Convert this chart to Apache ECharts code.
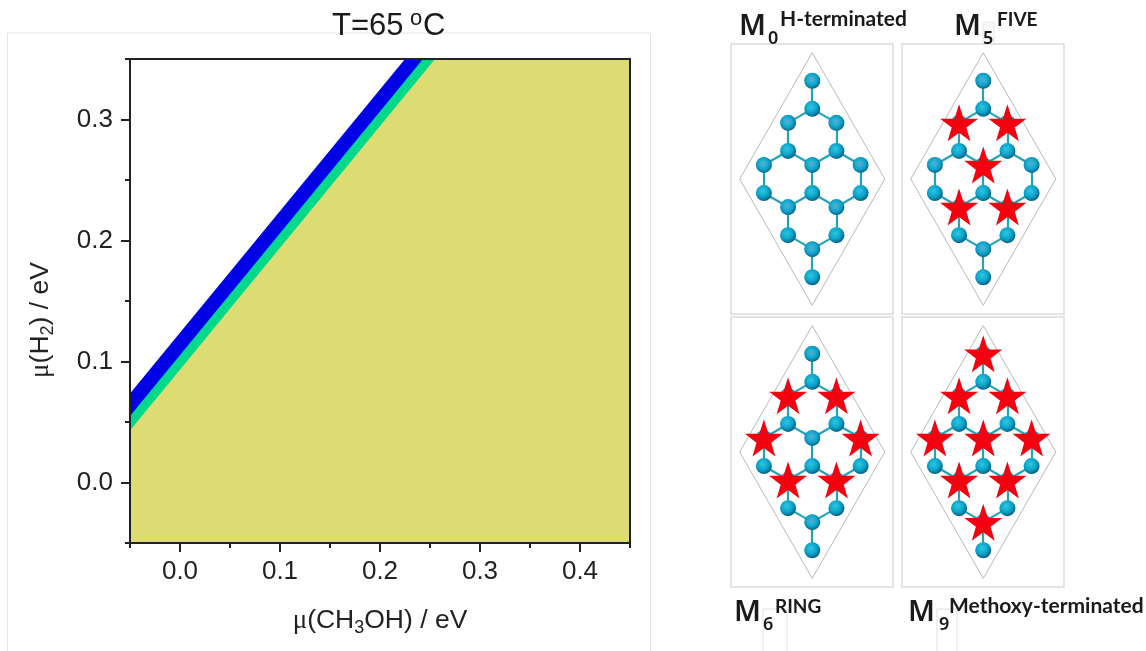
<!DOCTYPE html>
<html><head><meta charset="utf-8">
<style>html,body{margin:0;padding:0;background:#fff}#c{width:1146px;height:651px}</style>
<script src="https://cdn.jsdelivr.net/npm/echarts@6/dist/echarts.min.js"></script>
</head><body><div id="c"></div>
<script>
// phase boundaries [mu(CH3OH), mu(H2)] ; each region fills down to the axis floor
const boundaryBlue = [[-0.05,0.0736],[0.225,0.35],[0.45,0.35]];
const boundaryGreen = [[-0.05,0.055],[0.243,0.35],[0.45,0.35]];
const boundaryYellow = [[-0.05,0.043],[0.255,0.35],[0.45,0.35]];
const xMajorTicks = [0,0.1,0.2,0.3,0.4];
const xMinorTicks = [-0.05,0.05,0.15,0.25,0.35,0.45];
const yMajorTicks = [0,0.1,0.2,0.3];
const yMinorTicks = [-0.05,0.05,0.15,0.25,0.35];
// lattice (column, half-bond row)
const atomsUp = [[0,7],[-1,4],[1,4],[0,1],[-2,1],[2,1],[-1,-2],[1,-2],[0,-5]];
const atomsDown = [[0,5],[-1,2],[1,2],[-2,-1],[0,-1],[2,-1],[-1,-4],[1,-4],[0,-7]];
const bonds = [[[0,7],[0,5]],[[0,5],[-1,4]],[[0,5],[1,4]],[[-1,4],[-1,2]],[[1,4],[1,2]],[[-1,2],[0,1]],[[1,2],[0,1]],[[-1,2],[-2,1]],[[1,2],[2,1]],[[0,1],[0,-1]],[[-2,1],[-2,-1]],[[2,1],[2,-1]],[[0,-1],[-1,-2]],[[0,-1],[1,-2]],[[-2,-1],[-1,-2]],[[2,-1],[1,-2]],[[-1,-2],[-1,-4]],[[1,-2],[1,-4]],[[-1,-4],[0,-5]],[[1,-4],[0,-5]],[[0,-5],[0,-7]]];
const cell = [[0,9],[3,0],[0,-9],[-3,0],[0,9]];
const starsM0 = [];
const starsM5 = [[-1,4],[1,4],[0,1],[-1,-2],[1,-2]];
const starsM6 = [[-1,4],[1,4],[-2,1],[2,1],[-1,-2],[1,-2]];
const starsM9 = [[0,7],[-1,4],[1,4],[-2,1],[0,1],[2,1],[-1,-2],[1,-2],[0,-5]];
const panelStars = [starsM0,starsM5,starsM6,starsM9];

const FONT='"Liberation Sans",Arial,sans-serif', CAP='Lato,"Noto Sans",sans-serif', HEAD='"Noto Sans",sans-serif', INK='#222';
const STAR='path://M50 0L61.8 35.1L98.9 35.1L68.9 57L79.4 91L50 70L20.6 91L31 57L1.1 35.1L38.2 35.1Z';
const panelBoxes=[[731,44],[902,44],[731,317],[902,317]];
const chart=echarts.init(document.getElementById('c'),null,{renderer:'canvas'});
const nameRich={m:{fontFamily:'"Liberation Serif",serif',fontSize:27,color:'#222'},a:{fontFamily:FONT,fontSize:26.5,color:'#222'},s:{fontFamily:FONT,fontSize:18,color:'#222',verticalAlign:'bottom',padding:[14,0,0,0]}};

const mainX={type:'value',min:-0.05,max:0.45,gridIndex:0,position:'bottom',
  axisLine:{onZero:false,lineStyle:{color:INK,width:2}},splitLine:{show:false},
  axisTick:{show:true,length:9,inside:false,lineStyle:{color:INK,width:2},customValues:xMajorTicks},
  axisLabel:{show:true,fontFamily:FONT,fontSize:26,color:'#222',margin:16,customValues:xMajorTicks,formatter:v=>v.toFixed(1)},
  name:'{m|μ}{a|(CH}{s|3}{a|OH) / eV}',nameLocation:'middle',nameGap:62,nameTextStyle:{rich:nameRich}};
const minorX={type:'value',min:-0.05,max:0.45,gridIndex:0,position:'bottom',
  axisLine:{show:false,onZero:false},splitLine:{show:false},axisLabel:{show:false},
  axisTick:{show:true,length:5,lineStyle:{color:INK,width:2},customValues:xMinorTicks}};
const mainY={type:'value',min:-0.05,max:0.35,gridIndex:0,position:'left',
  axisLine:{onZero:false,lineStyle:{color:INK,width:2}},splitLine:{show:false},
  axisTick:{show:true,length:9,lineStyle:{color:INK,width:2},customValues:yMajorTicks},
  axisLabel:{show:true,fontFamily:FONT,fontSize:26,color:'#222',margin:17,customValues:yMajorTicks,formatter:v=>v.toFixed(1)},
  name:'{m|μ}{a|(H}{s|2}{a|) / eV}',nameLocation:'middle',nameGap:73,nameRotate:90,nameTextStyle:{rich:nameRich,padding:[0,38,0,0]}};
const minorY={type:'value',min:-0.05,max:0.35,gridIndex:0,position:'left',
  axisLine:{show:false,onZero:false},splitLine:{show:false},axisLabel:{show:false},
  axisTick:{show:true,length:5,lineStyle:{color:INK,width:2},customValues:yMinorTicks}};

const grids=[{left:130,top:59,width:500,height:484,show:true,borderColor:INK,borderWidth:2,backgroundColor:'transparent',z:5}];
const xAxes=[mainX,minorX],yAxes=[mainY,minorY];
const region=(data,color,z)=>({type:'line',xAxisIndex:0,yAxisIndex:0,data,symbol:'none',silent:true,z,
  lineStyle:{width:0,color},areaStyle:{color,opacity:1,origin:'start'}});
const series=[region(boundaryBlue,'#0000e6',1),region(boundaryGreen,'#00d98c',2),region(boundaryYellow,'#dcdc72',3)];

const upBall=new echarts.graphic.RadialGradient(0.45,0.42,0.6,[{offset:0,color:'#a77fb8'},{offset:0.2,color:'#2fb8d6'},{offset:0.62,color:'#0fa0c8'},{offset:1,color:'#06607f'}]);
const downBall=new echarts.graphic.RadialGradient(0.42,0.38,0.62,[{offset:0,color:'#2fc8e0'},{offset:0.6,color:'#0aa2ca'},{offset:1,color:'#06607f'}]);
panelBoxes.forEach((b,i)=>{
  const g=i+1;
  grids.push({left:b[0],top:b[1],width:162,height:270,show:true,borderColor:'#dcdcdc',borderWidth:1.5,backgroundColor:'#fff'});
  const ax={type:'value',gridIndex:g,show:false};
  xAxes.push({...ax,min:-3.36,max:3.34});
  yAxes.push({...ax,min:-9.62,max:9.62});
  const base={xAxisIndex:g+1,yAxisIndex:g+1,silent:true};
  series.push({...base,type:'line',data:cell,symbol:'none',z:6,lineStyle:{color:'#b3bdb6',width:1}});
  series.push({...base,type:'lines',coordinateSystem:'cartesian2d',z:7,data:bonds.map(c=>({coords:c})),lineStyle:{color:'#22a4b8',width:2.2,opacity:1}});
  series.push({...base,type:'scatter',data:atomsUp,symbolSize:16,z:8,itemStyle:{color:upBall,opacity:1}});
  series.push({...base,type:'scatter',data:atomsDown,symbolSize:16,z:8,itemStyle:{color:downBall,opacity:1}});
  series.push({...base,type:'scatter',data:panelStars[i],symbol:STAR,symbolSize:[38,37],z:9,itemStyle:{color:'#f5000f',opacity:1}});
});

const t=(text,x,y,fs,font,w)=>({type:'text',left:x,top:y,silent:true,z:20,style:{text,font:(w||'400')+' '+fs+'px '+font,fill:'#1a1a1a'}});
const rect=(x,y,w,h,c)=>({type:'rect',shape:{x,y,width:w,height:h},silent:true,z:-1,style:{fill:'none',stroke:c,lineWidth:1}});
const graphic=[
  rect(7.5,33,643,630,'#e4e4e4'),
  rect(763,609,24,50,'#e2e2e2'),
  rect(937,609,20,50,'#e2e2e2'),
  {type:'rect',shape:{x:983,y:22,width:11,height:22},silent:true,z:-1,style:{fill:'#fafafa',stroke:'#e8e8e8',lineWidth:1}},
  t('T=65',332,11,31,FONT),t('o',410,8,22,FONT),t('C',423,11,31,FONT),
  t('M',739,12,29,HEAD,'600'),t('0',768,30,18,HEAD,'600'),t('H-terminated',780,9,21,CAP,'700'),
  t('M',954,12,29,HEAD,'600'),t('5',983,30,18,HEAD,'600'),t('FIVE',997,10,19,CAP,'700'),
  t('M',734,598,29,HEAD,'600'),t('6',763,616,18,HEAD,'600'),t('RING',775,597,19,CAP,'700'),
  t('M',908,598,29,HEAD,'600'),t('9',939,616,18,HEAD,'600'),t('Methoxy-terminated',949,596,21,CAP,'700')
];
chart.setOption({animation:false,backgroundColor:'#fff',grid:grids,xAxis:xAxes,yAxis:yAxes,series,graphic});
</script></body></html>
